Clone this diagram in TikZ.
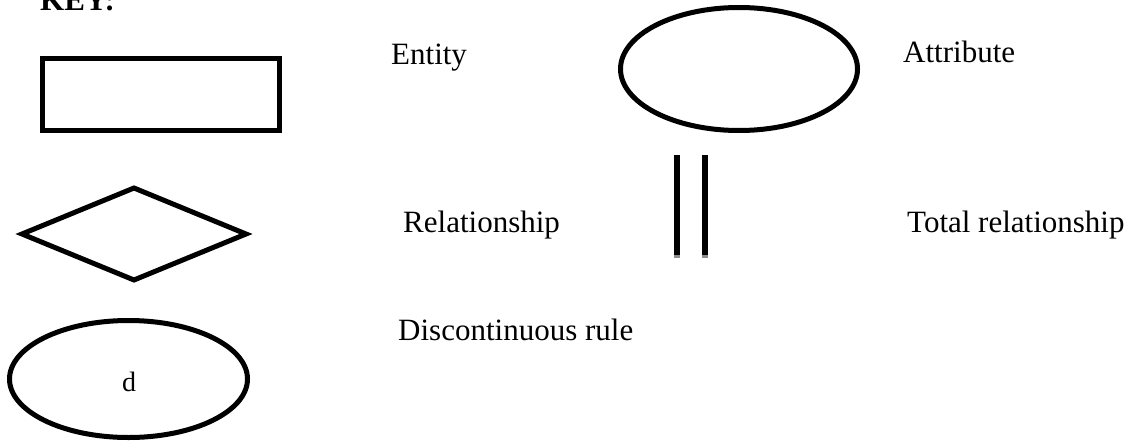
\documentclass[tikz,border=0pt]{standalone}
\usepackage{fontspec}
\setmainfont{Liberation Serif}
\usetikzlibrary{shapes.geometric}
\begin{document}
\begin{tikzpicture}[x=1pt,y=-1pt,
  shapeline/.style={draw=black, line width=5pt, inner sep=0pt, outer sep=0pt},
  keytext/.style={anchor=base west, inner sep=0pt, font=\fontsize{31}{37}\selectfont},
  totalline/.style={draw=black, line width=6pt}]
\useasboundingbox (0,0) rectangle (1132,444);
% title
\node[anchor=base west, inner sep=0pt, font=\fontsize{31}{37}\selectfont\bfseries] (key) at (40,11) {KEY:};
% shapes
\node[shapeline, rectangle, minimum width=237pt, minimum height=72pt] (entity) at (161,94.5) {};
\node[shapeline, ellipse, minimum width=237pt, minimum height=123pt] (attr) at (739,69) {};
\node[shapeline, diamond, minimum width=224pt, minimum height=92pt] (rel) at (134,234) {};
\node[shapeline, ellipse, minimum width=238pt, minimum height=117pt] (disc) at (128.5,379) {};
\node[anchor=base, inner sep=0pt, font=\fontsize{28}{33}\selectfont] (dlabel) at (129,391) {d};
% total relationship lines
\coordinate (t1a) at (677,155);
\coordinate (t1b) at (677,255);
\coordinate (t2a) at (705,155);
\coordinate (t2b) at (705,255);
\coordinate (t1c) at (677,258);
\coordinate (t2c) at (705,258);
\draw[totalline] (t1a) -- (t1b);
\draw[totalline] (t2a) -- (t2b);
\draw[line width=6pt, draw=black!45] (t1b) -- (t1c);
\draw[line width=6pt, draw=black!45] (t2b) -- (t2c);
% labels
\node[keytext] (lentity) at (391,65) {Entity};
\node[keytext] (lattr) at (903,63) {Attribute};
\node[keytext] (lrel) at (403,232) {Relationship};
\node[keytext] (ltotal) at (907,232) {Total relationship};
\node[keytext] (ldisc) at (398,340) {Discontinuous rule};
\end{tikzpicture}
\end{document}
